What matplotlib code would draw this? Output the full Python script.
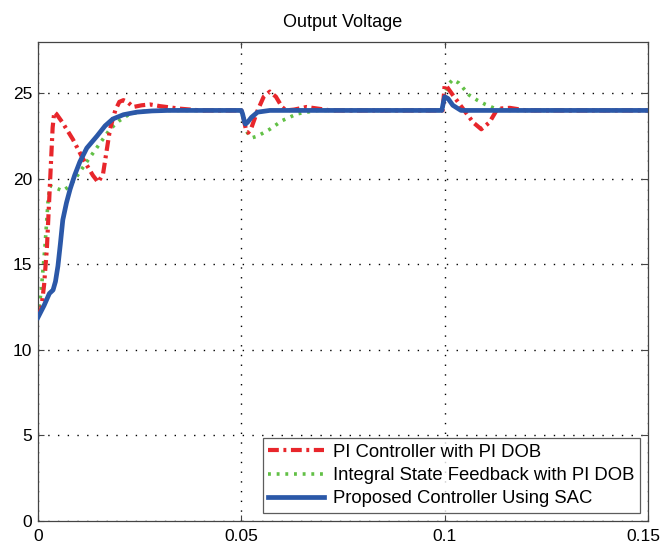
import matplotlib
matplotlib.use("Agg")
import matplotlib.pyplot as plt
from matplotlib.transforms import ScaledTranslation

plt.rcParams['font.family'] = ['Liberation Sans', 'DejaVu Sans']

# PI Controller with PI DOB
pi_t = [0.0, 0.0008, 0.0015, 0.0022, 0.003, 0.0036, 0.004, 0.0045, 0.006, 0.0086, 0.011, 0.0135, 0.0148,
        0.016, 0.0177, 0.019, 0.020, 0.021, 0.022, 0.0234, 0.0255, 0.0275, 0.030, 0.035, 0.040, 0.050,
        0.0505, 0.0512, 0.0517, 0.0525, 0.054, 0.0555, 0.057, 0.0585, 0.060, 0.061, 0.063, 0.066, 0.069, 0.072, 0.080, 0.0995,
        0.1, 0.1005, 0.102, 0.1045, 0.107, 0.109, 0.111, 0.113, 0.116, 0.120, 0.130, 0.15]
pi_v = [12.0, 12.4, 13.8, 16.0, 20.0, 23.0, 23.9, 23.8, 23.3, 22.3, 21.2, 20.2, 19.8,
        20.3, 22.9, 24.0, 24.5, 24.6, 24.5, 24.2, 24.3, 24.35, 24.25, 24.1, 24.0, 24.0,
        23.6, 22.8, 22.7, 23.0, 24.0, 24.8, 25.1, 24.8, 24.2, 24.0, 24.05, 24.2, 24.1, 24.0, 24.0, 24.0,
        25.5, 25.4, 24.9, 24.1, 23.3, 22.9, 23.3, 24.1, 24.15, 24.0, 24.0, 24.0]

# Integral State Feedback with PI DOB
isf_t = [0.0, 0.0008, 0.0017, 0.0025, 0.003, 0.004, 0.0061, 0.0079, 0.010, 0.012, 0.015, 0.0177, 0.020,
         0.0226, 0.026, 0.030, 0.050, 0.0505, 0.0515, 0.0526, 0.054, 0.057, 0.060, 0.0637, 0.0686, 0.075, 0.0995,
         0.1, 0.1012, 0.102, 0.1035, 0.106, 0.108, 0.110, 0.1125, 0.116, 0.15]
isf_v = [12.0, 13.5, 16.0, 18.8, 19.6, 19.5, 19.3, 19.6, 20.3, 21.0, 22.0, 22.9, 23.4,
         23.8, 23.95, 24.0, 24.0, 23.5, 22.7, 22.4, 22.5, 22.9, 23.4, 23.8, 24.0, 24.0, 24.0,
         25.0, 25.6, 25.8, 25.6, 24.9, 24.6, 24.35, 24.1, 24.0, 24.0]

# Proposed Controller Using SAC
sac_t = [0.0, 0.0015, 0.0028, 0.0037, 0.0043, 0.0049, 0.0055, 0.0061, 0.007, 0.0079, 0.009, 0.0103, 0.012,
         0.0145, 0.0165, 0.0184, 0.021, 0.0243, 0.028, 0.032, 0.050, 0.0503, 0.0508, 0.051, 0.0515, 0.0525,
         0.054, 0.057, 0.0993, 0.0997, 0.1, 0.1008, 0.102, 0.104, 0.15]
sac_v = [11.9, 12.6, 13.3, 13.5, 14.0, 14.9, 16.2, 17.6, 18.6, 19.4, 20.2, 21.0, 21.8,
         22.5, 23.1, 23.5, 23.75, 23.9, 23.97, 24.0, 24.0, 23.8, 23.3, 23.2, 23.3, 23.6,
         23.9, 24.0, 24.0, 24.5, 24.8, 24.7, 24.3, 24.0, 24.0]

labels = ['PI Controller with PI DOB', 'Integral State Feedback with PI DOB', 'Proposed Controller Using SAC']
x_ticks = [0, 0.05, 0.1, 0.15]
x_tick_labels = ['0', '0.05', '0.1', '0.15']
y_ticks = [0, 5, 10, 15, 20, 25]

fig = plt.figure(figsize=(6.62, 5.44), dpi=100)
ax = fig.add_axes([0.0574, 0.0423, 0.9215, 0.8805])

ax.plot(pi_t, pi_v, color='#e8262b', lw=3.0, linestyle=(0, (2.6, 1.1, 0.7, 1.1)), label=labels[0], zorder=3)
ax.plot(isf_t, isf_v, color='#62c046', lw=2.6, linestyle=(0, (0.8, 1.6)), label=labels[1], zorder=2)
ax.plot(sac_t, sac_v, color='#2b58a8', lw=3.4, linestyle='-', label=labels[2], zorder=4)

ax.set_xlim(0, 0.15)
ax.set_ylim(0, 28)
ax.set_xticks(x_ticks)
ax.set_xticklabels(x_tick_labels)
ax.set_yticks(y_ticks)
ax.tick_params(direction='in', top=True, right=True, labelsize=12.5, length=4, color='#444444')
ax.tick_params(axis='x', pad=6)
ax.tick_params(axis='y', pad=4)
# the last x label sits right at the figure edge, nudge it slightly inward so it is not clipped
last = ax.xaxis.get_major_ticks()[-1].label1
last.set_transform(last.get_transform() + ScaledTranslation(-5 / 100, 0, fig.dpi_scale_trans))
ax.grid(True, color='black', linestyle=(0, (1, 6)), linewidth=1.0)
for s in ax.spines.values():
    s.set_linewidth(0.9)
    s.set_color('#444444')
ax.set_title('Output Voltage', fontsize=13, pad=11)

leg = ax.legend(loc='lower right', fontsize=13.3, frameon=True, fancybox=False, edgecolor='#333333',
                handlelength=3.0, borderaxespad=0.45, labelspacing=0.33, borderpad=0.3, handletextpad=0.5)
leg.get_frame().set_linewidth(0.9)

fig.savefig('out.png', dpi=100)
